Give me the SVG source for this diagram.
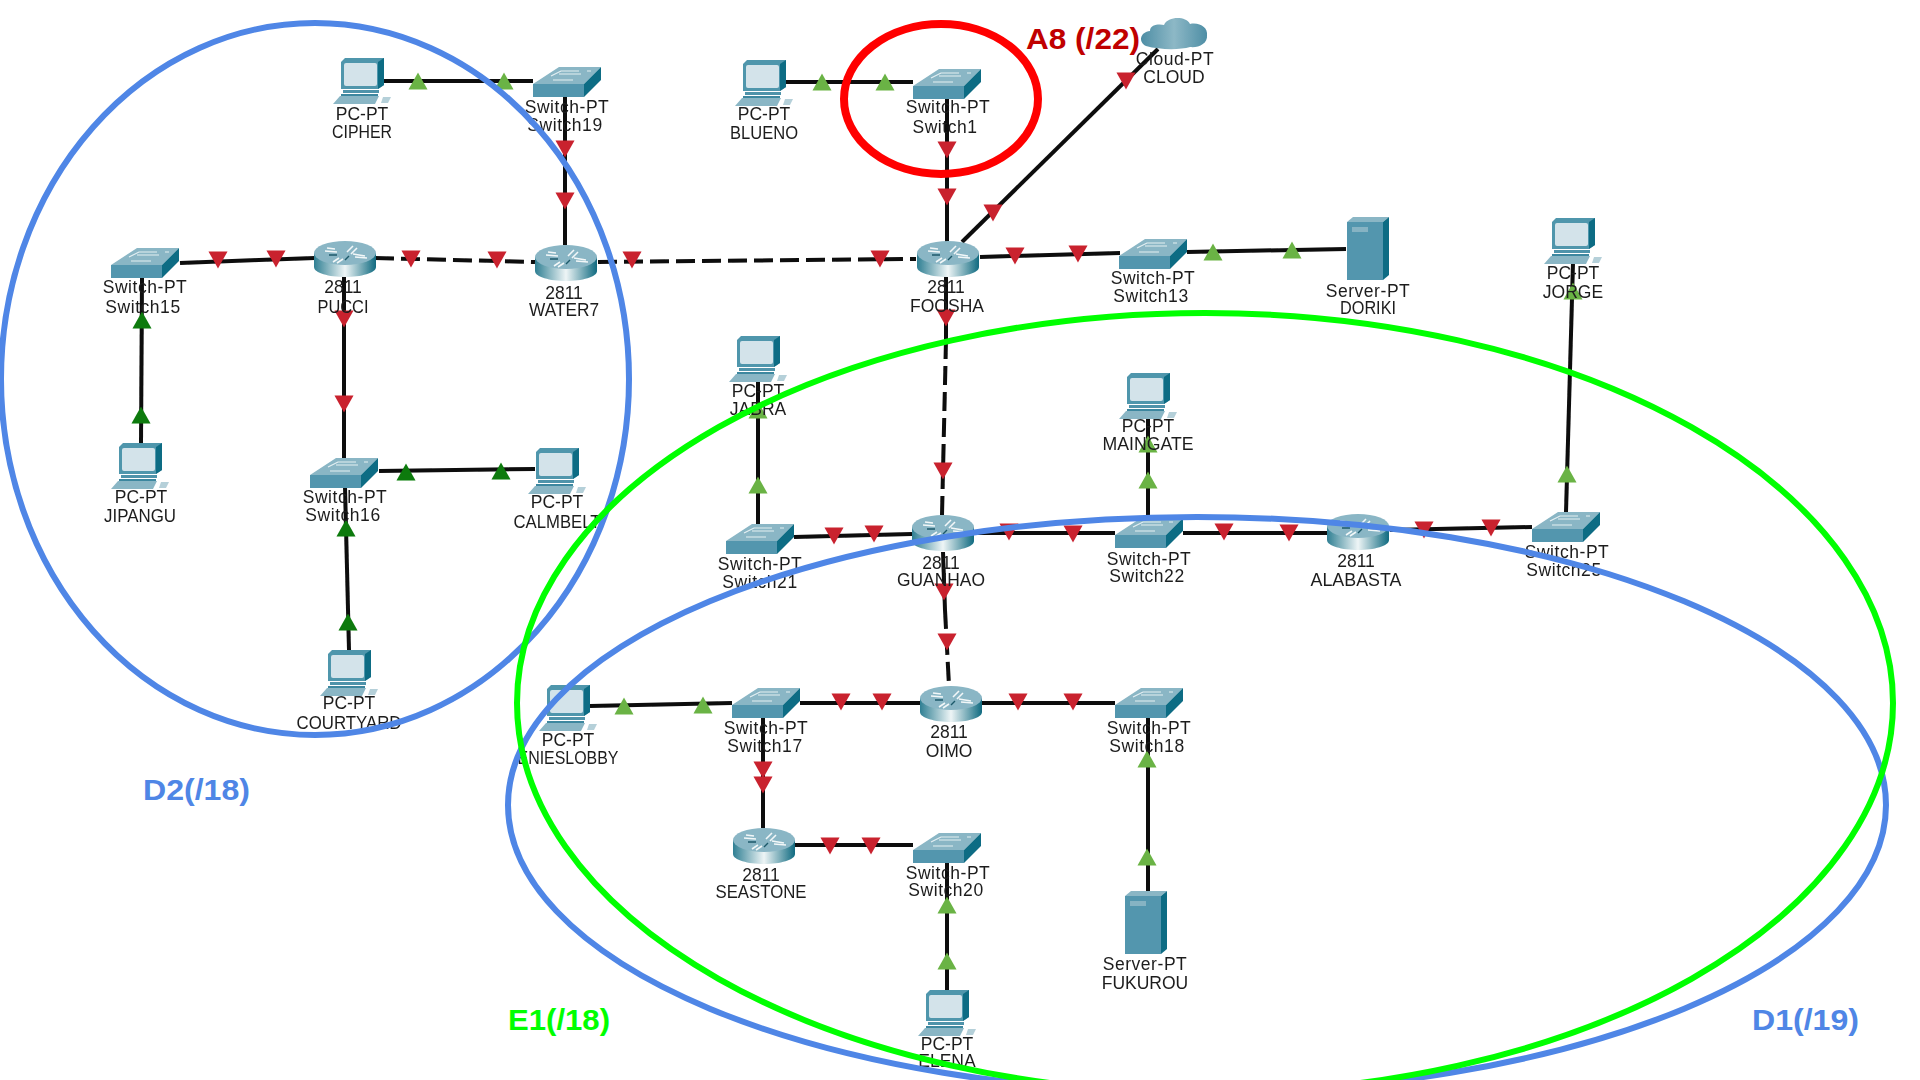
<svg xmlns="http://www.w3.org/2000/svg" width="1920" height="1080" viewBox="0 0 1920 1080">
<style>
.lk{stroke:#0a0a0a;stroke-width:4;fill:none}
.da{stroke-dasharray:19 7}
text{font-family:"Liberation Sans",Arial,sans-serif}
.n{filter:url(#soft)}
#connectors{filter:url(#soft)}
.n text{font-size:17.5px;fill:#1c1c1c;text-anchor:middle}
.n.s text{letter-spacing:.55px}
.r{fill:#c9202f}.g{fill:#6ab344}.k{fill:#0a7a0a}
.ann{font-weight:bold;font-size:30px}
.ring{fill:none}
</style>
<defs>
<filter id="soft" x="-10%" y="-10%" width="120%" height="120%"><feGaussianBlur stdDeviation="0.4"/></filter>
<linearGradient id="rb" x1="0" x2="1" y1="0" y2="0"><stop offset="0" stop-color="#2f7f93"/><stop offset=".5" stop-color="#eef5f6"/><stop offset="1" stop-color="#0f6a80"/></linearGradient>
<linearGradient id="cb" x1="0" x2="1" y1="0" y2="0"><stop offset="0" stop-color="#4e8ea5"/><stop offset=".5" stop-color="#8db8c6"/><stop offset="1" stop-color="#4e8ea5"/></linearGradient>
<path id="d" d="M-9.500 -8.500H9.500L0 8.500Z"/>
<path id="u" d="M0 -8.500L9.500 8.500H-9.500Z"/>
<g id="sw">
<path d="M-34 2L-8 -15H34L17 2Z" fill="#8ab6c5"/>
<path d="M-16 -6L-6 -11H12M-14 -2H6M-8 -8L14 -8M20 -11L24 -11" stroke="#e4eff2" stroke-width="1.2" fill="none"/>
<rect x="-34" y="2" width="51" height="13" fill="#5296ae"/>
<path d="M17 2L34 -15V-2L17 15Z" fill="#0f6c84"/>
</g>
<g id="rt">
<path d="M-31 -6V8C-31 14 -16 18 0 18S31 14 31 8V-6Z" fill="url(#rb)"/>
<ellipse cx="0" cy="-6" rx="31" ry="12" fill="#8ab6c5"/>
<path d="M-20 -8L-8 -7M-18 -11L-10 -10M8 -13L2 -7M12 -11L6 -5M-6 -1L-12 3M-2 0L-8 4M8 -5L20 -3M10 -2L22 -1" stroke="#f2f7f8" stroke-width="1.6" fill="none"/>
<path d="M-8 -4L-16 -4M4 -3L0 1" stroke="#1d5a6b" stroke-width="1.4" fill="none"/>
</g>
<g id="pc">
<path d="M-21 -19L-17 -23H22V4L16 8H-21Z" fill="#4f96ac"/>
<path d="M16 -19L22 -23V4L16 8Z" fill="#0f6c84"/>
<rect x="-18" y="-18" width="33" height="23" rx="2" fill="#d3e3ea"/>
<rect x="-19" y="9" width="36" height="3" fill="#4f93aa"/>
<rect x="-21" y="13" width="37" height="2.500" fill="#3d879f"/>
<path d="M-22 15H17L13 23H-29Z" fill="#8ab6c5"/>
<path d="M21 16H29L26 22H19Z" fill="#b5d0d9"/>
</g>
<g id="sv">
<path d="M-21 -27L-15 -32H21L15 -27Z" fill="#8ab6c5"/>
<rect x="-21" y="-27" width="36" height="58" fill="#5296ae"/>
<path d="M15 -27L21 -32V26L15 31Z" fill="#0f6c84"/>
<rect x="-16" y="-22" width="16" height="5" fill="#86b3c3"/>
</g>
</defs>
<rect width="1920" height="1080" fill="#fff"/>
<g id="connectors">
<path class="lk" d="M384 81H533"/>
<path class="lk" d="M565 97V245"/>
<path class="lk" d="M180 263L315 258"/>
<path class="lk da" d="M375 258L535 262"/>
<path class="lk da" d="M598 262L916 259"/>
<path class="lk" d="M786 82H913"/>
<path class="lk" d="M947 99V242"/>
<path class="lk" d="M962 242L1158 49"/>
<path class="lk" d="M980 257L1120 253"/>
<path class="lk" d="M1187 252L1346 249"/>
<path class="lk" d="M946 277V340"/>
<path class="lk da" d="M946 340L942 515"/>
<path class="lk" d="M142 278L141 443"/>
<path class="lk" d="M344 277V458"/>
<path class="lk" d="M379 471L535 469"/>
<path class="lk" d="M345 487L349 650"/>
<path class="lk" d="M758 380V524"/>
<path class="lk" d="M1148 417V522"/>
<path class="lk" d="M1566 512L1573 263"/>
<path class="lk" d="M794 537L912 534"/>
<path class="lk" d="M974 533H1115"/>
<path class="lk" d="M1183 533H1327"/>
<path class="lk" d="M1390 530L1532 527"/>
<path class="lk" d="M943 552L945 610"/>
<path class="lk da" d="M945 610L949 686"/>
<path class="lk" d="M590 706L732 703"/>
<path class="lk" d="M800 703H920"/>
<path class="lk" d="M982 703H1115"/>
<path class="lk" d="M763 718V828"/>
<path class="lk" d="M794 845H913"/>
<path class="lk" d="M1148 718V891"/>
<path class="lk" d="M947 863V990"/>
<g class="r">
<use href="#d" x="565" y="149"/><use href="#d" x="565" y="201"/>
<use href="#d" x="218" y="260"/><use href="#d" x="276" y="259"/>
<use href="#d" x="411" y="259"/><use href="#d" x="497" y="260"/>
<use href="#d" x="632" y="260"/><use href="#d" x="880" y="259"/>
<use href="#d" x="947" y="150"/><use href="#d" x="947" y="197"/>
<use href="#d" x="993" y="213"/><use href="#d" x="1126" y="81"/>
<use href="#d" x="1015" y="256"/><use href="#d" x="1078" y="254"/>
<use href="#d" x="946" y="318"/><use href="#d" x="943" y="471"/>
<use href="#d" x="344" y="319"/><use href="#d" x="344" y="404"/>
<use href="#d" x="834" y="536"/><use href="#d" x="874" y="534"/>
<use href="#d" x="1009" y="532"/><use href="#d" x="1073" y="534"/>
<use href="#d" x="1224" y="532"/><use href="#d" x="1289" y="533"/>
<use href="#d" x="1424" y="530"/><use href="#d" x="1491" y="528"/>
<use href="#d" x="944" y="592"/><use href="#d" x="947" y="642"/>
<use href="#d" x="841" y="702"/><use href="#d" x="882" y="702"/>
<use href="#d" x="1018" y="702"/><use href="#d" x="1073" y="702"/>
<use href="#d" x="763" y="770"/><use href="#d" x="763" y="785"/>
<use href="#d" x="830" y="846"/><use href="#d" x="871" y="846"/>
</g>
<g class="g">
<use href="#u" x="418" y="81"/><use href="#u" x="504" y="81"/>
<use href="#u" x="822" y="82"/><use href="#u" x="885" y="82"/>
<use href="#u" x="1213" y="252"/><use href="#u" x="1292" y="250"/>
<use href="#u" x="758" y="485"/><use href="#u" x="758" y="410"/>
<use href="#u" x="1148" y="480"/><use href="#u" x="1148" y="444"/>
<use href="#u" x="1567" y="474"/><use href="#u" x="1573" y="291"/>
<use href="#u" x="624" y="706"/><use href="#u" x="703" y="705"/>
<use href="#u" x="1147" y="759"/><use href="#u" x="1147" y="857"/>
<use href="#u" x="947" y="905"/><use href="#u" x="947" y="961"/>
</g>
<g class="k">
<use href="#u" x="142" y="320"/><use href="#u" x="141" y="415"/>
<use href="#u" x="406" y="472"/><use href="#u" x="501" y="471"/>
<use href="#u" x="346" y="528"/><use href="#u" x="348" y="622"/>
</g>
</g>
<g id="CIPHER" class="n"><use href="#pc" x="362" y="81"/><text x="362" y="120">PC-PT</text><text x="362" y="138" textLength="60" lengthAdjust="spacingAndGlyphs">CIPHER</text></g>
<g id="Switch19" class="n s"><use href="#sw" x="567" y="82"/><text x="567" y="113">Switch-PT</text><text x="565" y="131">Switch19</text></g>
<g id="Switch15" class="n s"><use href="#sw" x="145" y="263"/><text x="145" y="293">Switch-PT</text><text x="143" y="313">Switch15</text></g>
<g id="PUCCI" class="n"><use href="#rt" x="345" y="259"/><text x="343" y="293">2811</text><text x="343" y="313" textLength="51" lengthAdjust="spacingAndGlyphs">PUCCI</text></g>
<g id="WATER7" class="n"><use href="#rt" x="566" y="263"/><text x="564" y="299">2811</text><text x="564" y="316" textLength="70" lengthAdjust="spacingAndGlyphs">WATER7</text></g>
<g id="BLUENO" class="n"><use href="#pc" x="764" y="83"/><text x="764" y="120">PC-PT</text><text x="764" y="139" textLength="68" lengthAdjust="spacingAndGlyphs">BLUENO</text></g>
<g id="Switch1" class="n s"><use href="#sw" x="947" y="84"/><text x="948" y="113">Switch-PT</text><text x="945" y="133">Switch1</text></g>
<g id="CLOUD" class="n"><path d="M1146 46C1138 42 1140 32 1150 31C1150 24 1160 24 1164 25C1168 16 1186 16 1190 24C1200 22 1208 28 1207 35C1208 44 1198 48 1190 47C1180 50 1160 50 1146 46Z" fill="url(#cb)"/><text x="1175" y="65" style="letter-spacing:.55px">Cloud-PT</text><text x="1174" y="83">CLOUD</text></g>
<g id="FOOSHA" class="n"><use href="#rt" x="948" y="259"/><text x="946" y="293">2811</text><text x="947" y="312">FOOSHA</text></g>
<g id="Switch13" class="n s"><use href="#sw" x="1153" y="254"/><text x="1153" y="284">Switch-PT</text><text x="1151" y="302">Switch13</text></g>
<g id="DORIKI" class="n"><use href="#sv" x="1368" y="249"/><text x="1368" y="297" style="letter-spacing:.55px">Server-PT</text><text x="1368" y="314" textLength="56" lengthAdjust="spacingAndGlyphs">DORIKI</text></g>
<g id="JORGE" class="n"><use href="#pc" x="1573" y="241"/><text x="1573" y="279">PC-PT</text><text x="1573" y="298">JORGE</text></g>
<g id="JABRA" class="n"><use href="#pc" x="758" y="359"/><text x="758" y="397">PC-PT</text><text x="758" y="415">JABRA</text></g>
<g id="MAINGATE" class="n"><use href="#pc" x="1148" y="396"/><text x="1148" y="432">PC-PT</text><text x="1148" y="450" textLength="91" lengthAdjust="spacingAndGlyphs">MAINGATE</text></g>
<g id="JIPANGU" class="n"><use href="#pc" x="140" y="466"/><text x="141" y="503">PC-PT</text><text x="140" y="522" textLength="72" lengthAdjust="spacingAndGlyphs">JIPANGU</text></g>
<g id="Switch16" class="n s"><use href="#sw" x="344" y="473"/><text x="345" y="503">Switch-PT</text><text x="343" y="521">Switch16</text></g>
<g id="CALMBELT" class="n"><use href="#pc" x="557" y="471"/><text x="557" y="508">PC-PT</text><text x="557" y="528" textLength="87" lengthAdjust="spacingAndGlyphs">CALMBELT</text></g>
<g id="COURTYARD" class="n"><use href="#pc" x="349" y="673"/><text x="349" y="709">PC-PT</text><text x="349" y="729" textLength="105" lengthAdjust="spacingAndGlyphs">COURTYARD</text></g>
<g id="ENIESLOBBY" class="n"><use href="#pc" x="568" y="708"/><text x="568" y="746">PC-PT</text><text x="568" y="764" textLength="101" lengthAdjust="spacingAndGlyphs">ENIESLOBBY</text></g>
<g id="Switch21" class="n s"><use href="#sw" x="760" y="539"/><text x="760" y="570">Switch-PT</text><text x="760" y="588">Switch21</text></g>
<g id="GUANHAO" class="n"><use href="#rt" x="943" y="533"/><text x="941" y="569">2811</text><text x="941" y="586" textLength="88" lengthAdjust="spacingAndGlyphs">GUANHAO</text></g>
<g id="Switch22" class="n s"><use href="#sw" x="1149" y="533"/><text x="1149" y="565">Switch-PT</text><text x="1147" y="582">Switch22</text></g>
<g id="ALABASTA" class="n"><use href="#rt" x="1358" y="532"/><text x="1356" y="567">2811</text><text x="1356" y="586" textLength="91" lengthAdjust="spacingAndGlyphs">ALABASTA</text></g>
<g id="Switch25" class="n s"><use href="#sw" x="1566" y="527"/><text x="1567" y="558">Switch-PT</text><text x="1564" y="576">Switch25</text></g>
<g id="Switch17" class="n s"><use href="#sw" x="766" y="703"/><text x="766" y="734">Switch-PT</text><text x="765" y="752">Switch17</text></g>
<g id="OIMO" class="n"><use href="#rt" x="951" y="704"/><text x="949" y="738">2811</text><text x="949" y="757">OIMO</text></g>
<g id="Switch18" class="n s"><use href="#sw" x="1149" y="703"/><text x="1149" y="734">Switch-PT</text><text x="1147" y="752">Switch18</text></g>
<g id="SEASTONE" class="n"><use href="#rt" x="764" y="846"/><text x="761" y="881">2811</text><text x="761" y="898" textLength="91" lengthAdjust="spacingAndGlyphs">SEASTONE</text></g>
<g id="Switch20" class="n s"><use href="#sw" x="947" y="848"/><text x="948" y="879">Switch-PT</text><text x="946" y="896">Switch20</text></g>
<g id="ELENA" class="n"><use href="#pc" x="947" y="1013"/><text x="947" y="1050">PC-PT</text><text x="947" y="1067">ELENA</text></g>
<g id="FUKUROU" class="n"><use href="#sv" x="1146" y="923"/><text x="1145" y="970" style="letter-spacing:.55px">Server-PT</text><text x="1145" y="989">FUKUROU</text></g>
<g id="annotations">
<ellipse class="ring" cx="315" cy="379" rx="314" ry="356" stroke="#4f86e6" stroke-width="6"/>
<ellipse class="ring" cx="1197" cy="805" rx="689" ry="288" stroke="#4f86e6" stroke-width="6"/>
<ellipse class="ring" cx="1205" cy="703" rx="688" ry="390" stroke="#00ff00" stroke-width="6"/>
<ellipse class="ring" cx="941" cy="99" rx="97" ry="75" stroke="#ff0000" stroke-width="8"/>
<text class="ann" x="1026" y="49" fill="#c00000" textLength="114" lengthAdjust="spacingAndGlyphs">A8 (/22)</text>
<text class="ann" x="143" y="800" fill="#4f86e6" textLength="107" lengthAdjust="spacingAndGlyphs">D2(/18)</text>
<text class="ann" x="508" y="1030" fill="#00ff00" textLength="102" lengthAdjust="spacingAndGlyphs">E1(/18)</text>
<text class="ann" x="1752" y="1030" fill="#4f86e6" textLength="107" lengthAdjust="spacingAndGlyphs">D1(/19)</text>
</g>
</svg>
